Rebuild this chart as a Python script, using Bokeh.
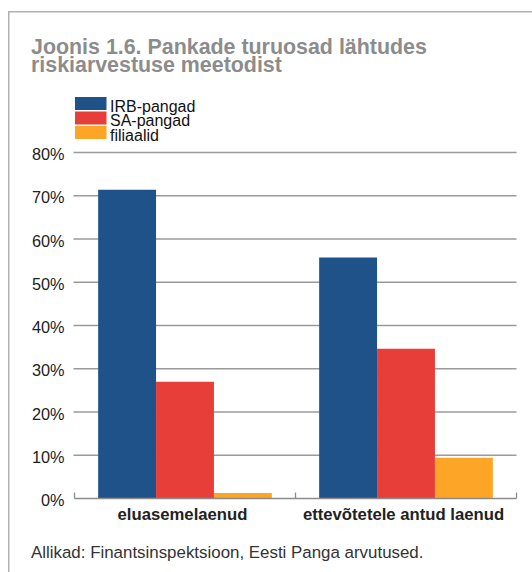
from bokeh.plotting import figure
from bokeh.models import ColumnDataSource, Label, PolyAnnotation, Range1d
from bokeh.core.properties import value
from bokeh.embed import file_html
from bokeh.resources import INLINE

categories = ["eluasemelaenud", "ettevõtetele antud laenud"]
series = ["IRB-pangad", "SA-pangad", "filiaalid"]
irb = [71.4, 55.7]
sa = [27.0, 34.6]
fil = [1.3, 9.4]
colors = ["#20528a", "#e83e3a", "#fda527"]
yticks = [0, 10, 20, 30, 40, 50, 60, 70, 80]
ytick_labels = ["0%", "10%", "20%", "30%", "40%", "50%", "60%", "70%", "80%"]
title_lines = ["Joonis 1.6. Pankade turuosad lähtudes", "riskiarvestuse meetodist"]
source_text = "Allikad: Finantsinspektsioon, Eesti Panga arvutused."

FONT = "Liberation Sans"
W, H = 532, 572
# plot area in canvas pixels
PX0, PX1, PY_TOP, PY_BOT = 74, 516, 152, 498
YMAX = 80
NC = len(categories)
ux = (PX1 - PX0) / NC          # px per category unit
uy = (PY_BOT - PY_TOP) / YMAX  # px per percent

x_range = Range1d(-PX0 / ux, NC + (W - PX1) / ux)
y_range = Range1d(-(H - PY_BOT) / uy, YMAX + PY_TOP / uy)

p = figure(width=W, height=H, x_range=x_range, y_range=y_range,
           output_backend="svg", toolbar_location=None,
           x_axis_location=None, y_axis_location=None,
           min_border=0, min_border_left=0, min_border_right=0,
           min_border_top=0, min_border_bottom=0)
p.outline_line_color = None
p.grid.visible = False
p.background_fill_color = "white"
p.border_fill_color = "white"


def dx(px):
    return px / ux


def dy(px):
    return px / uy


# gridlines (from tick values)
grid_src = ColumnDataSource(dict(y=yticks[1:]))
p.segment(x0=dx(-1), x1=NC, y0="y", y1="y", source=grid_src,
          line_color="#9a9a9a", line_width=1.3)

# bars
centers = [i + 0.5 for i in range(NC)]
bw = 0.262
for i, (vals, c) in enumerate(zip([irb, sa, fil], colors)):
    xs = [cx + (i - 1) * bw for cx in centers]
    p.vbar(x=xs, top=vals, bottom=0, width=bw, fill_color=c, line_color=None)

# x axis line and boundary ticks
p.segment(x0=[0], x1=[NC], y0=[0], y1=[0], line_color="#8c8c8c", line_width=1.6)
p.segment(x0=list(range(NC + 1)), x1=list(range(NC + 1)), y0=0, y1=dy(6),
          line_color="#8c8c8c", line_width=1.3)

# y tick labels
p.text(x=[dx(-10)] * len(yticks), y=[t - dy(1.5) for t in yticks], text=ytick_labels,
       text_font=value(FONT), text_font_size="16.3px", text_color="#222222",
       text_align="right", text_baseline="middle")

# category labels
p.text(x=[c - dx(2.5) for c in centers], y=[dy(-(513.5 - PY_BOT))] * NC, text=categories,
       text_font=value(FONT), text_font_size="16.7px", text_font_style="bold",
       text_color="#222222", text_align="center", text_baseline="middle")


def lab(x, ymid, text, size, color, bold=False):
    return Label(x=x, y=H - ymid, x_units="screen", y_units="screen", text=text,
                 text_font=FONT, text_font_size=size,
                 text_font_style="bold" if bold else "normal",
                 text_color=color, text_baseline="middle")


# title
for k, t in enumerate(title_lines):
    p.add_layout(lab(30.5, 46.3 + k * 18.4, t, "21.4px", "#8c8c8c", bold=True))

# legend
sw_top = [96.5, 111, 125.5]
for k, (name, c) in enumerate(zip(series, colors)):
    t0 = sw_top[k]
    p.add_layout(PolyAnnotation(xs=[74.5, 106, 106, 74.5],
                                ys=[H - t0, H - t0, H - (t0 + 13), H - (t0 + 13)],
                                xs_units="screen", ys_units="screen",
                                fill_color=c, fill_alpha=1, line_color=None))
    p.add_layout(lab(109.5, 105.8 + k * 14.5, name, "16px", "#111111"))

# source
p.add_layout(lab(30.5, 552.3, source_text, "16.9px", "#333333"))

# frame lines (top and left)
p.add_layout(PolyAnnotation(xs=[7.5, 7.5, 540, 540, 9, 9],
                            ys=[-10, H - 10.5, H - 10.5, H - 12, H - 12, -10],
                            xs_units="screen", ys_units="screen",
                            fill_color="#b0b0b0", fill_alpha=1, line_color=None))

open("out.html", "w").write(file_html(p, INLINE))
